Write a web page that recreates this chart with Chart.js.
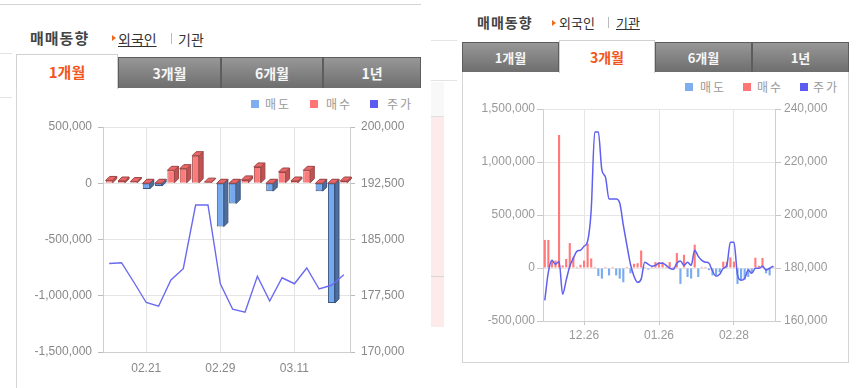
<!DOCTYPE html>
<html>
<head>
<meta charset="utf-8">
<script src="https://cdn.jsdelivr.net/npm/chart.js@4"></script>
<style>
  body { margin: 0; background: #fff; width: 861px; height: 388px; overflow: hidden; position: relative; font-family: 'Noto Sans CJK KR', sans-serif; }
  .abs { position: absolute; }
  .hd { position: absolute; font-weight: bold; color: #444; white-space: nowrap; }
  .lnk { position: absolute; color: #333; white-space: nowrap; }
  .tri { position: absolute; width: 0; height: 0; border-top: 3px solid transparent; border-bottom: 3px solid transparent; border-left: 4px solid #f06a1e; }
  .tab { position: absolute; box-sizing: border-box; text-align: center; font-weight: bold; color: #f6f6f6;
         background: linear-gradient(#979797, #6e6e6e); border: 1px solid #5d5d5d; border-bottom: none; }
  .tab.on { background: #fff; color: #f2561d; border: 1px solid #d0d0d0; border-bottom: none; }
  .lg { position: absolute; color: #999; letter-spacing: 2px; white-space: nowrap; }
  .sq { position: absolute; width: 8px; height: 8px; }
</style>
</head>
<body>
<!-- left widget -->
<div class="abs" style="left:0;top:4px;width:421px;height:1px;background:#d4d4d4"></div>
<div class="abs" style="left:0;top:53px;width:12px;height:1px;background:#e2e2e2"></div>
<div class="abs" style="left:0;top:97px;width:12px;height:1px;background:#e2e2e2"></div>
<div class="hd" style="left:30px;top:27px;font-size:15px;letter-spacing:1px">매매동향</div>
<div class="tri" style="left:112px;top:35px"></div>
<div class="lnk" style="left:118px;top:29px;font-size:14px;text-decoration:underline">외국인</div>
<div class="abs" style="left:171px;top:33px;width:1px;height:11px;background:#bbb"></div>
<div class="lnk" style="left:178px;top:29px;font-size:14px">기관</div>

<div class="tab on" style="left:16px;top:54px;width:102px;height:35px;font-size:15px;line-height:34px">1개월</div>
<div class="tab" style="left:118px;top:57px;width:103px;height:31px;font-size:14px;line-height:30px">3개월</div>
<div class="tab" style="left:221px;top:57px;width:102px;height:31px;font-size:14px;line-height:30px">6개월</div>
<div class="tab" style="left:323px;top:57px;width:98px;height:31px;font-size:14px;line-height:30px">1년</div>
<div class="abs" style="left:16px;top:88px;width:1px;height:300px;background:#d4d4d4"></div>

<div class="sq" style="left:251px;top:100px;background:#7eaef0"></div>
<div class="lg" style="left:265px;top:95px;font-size:12px">매도</div>
<div class="sq" style="left:310px;top:100px;background:#ff7676"></div>
<div class="lg" style="left:326px;top:95px;font-size:12px">매수</div>
<div class="sq" style="left:370px;top:100px;background:#5b5bf2"></div>
<div class="lg" style="left:387px;top:95px;font-size:12px">주가</div>

<canvas id="c1" width="420" height="288" style="position:absolute;left:0;top:100px"></canvas>

<!-- middle strip -->
<div class="abs" style="left:431px;top:40px;width:26px;height:1px;background:#e4e4e4"></div>
<div class="abs" style="left:431px;top:80px;width:26px;height:1px;background:#e4e4e4"></div>
<div class="abs" style="left:431px;top:82px;width:13px;height:34px;background:#f8f8f8"></div>
<div class="abs" style="left:431px;top:116px;width:13px;height:1px;background:#e0e0e0"></div>
<div class="abs" style="left:431px;top:117px;width:13px;height:210px;background:#fdeaea"></div>
<div class="abs" style="left:431px;top:276px;width:13px;height:1px;background:#d6d6d6"></div>

<!-- right widget -->
<div class="hd" style="left:477px;top:12px;font-size:14px;letter-spacing:1px">매매동향</div>
<div class="tri" style="left:552px;top:20px"></div>
<div class="lnk" style="left:559px;top:13px;font-size:13px">외국인</div>
<div class="abs" style="left:608px;top:17px;width:1px;height:11px;background:#bbb"></div>
<div class="lnk" style="left:616px;top:13px;font-size:13px;text-decoration:underline">기관</div>

<div class="tab" style="left:462px;top:42px;width:97px;height:30px;font-size:13px;line-height:30px">1개월</div>
<div class="tab on" style="left:559px;top:40px;width:96px;height:33px;font-size:14px;line-height:32px">3개월</div>
<div class="tab" style="left:655px;top:42px;width:97px;height:30px;font-size:13px;line-height:30px">6개월</div>
<div class="tab" style="left:752px;top:42px;width:97px;height:30px;font-size:13px;line-height:30px">1년</div>
<div class="abs" style="left:462px;top:72px;width:385px;height:290px;border:1px solid #d4d4d4;border-top:none"></div>

<div class="sq" style="left:685px;top:83px;background:#7eaef0"></div>
<div class="lg" style="left:700px;top:78px;font-size:12px">매도</div>
<div class="sq" style="left:743px;top:83px;background:#ff7676"></div>
<div class="lg" style="left:757px;top:78px;font-size:12px">매수</div>
<div class="sq" style="left:800px;top:83px;background:#5b5bf2"></div>
<div class="lg" style="left:813px;top:78px;font-size:12px">주가</div>

<canvas id="c2" width="386" height="262" style="position:absolute;left:462px;top:95px"></canvas>

<script>
// 1개월 (외국인)
const dates1 = ['02.16','02.19','02.20','02.21','02.22','02.23','02.26','02.27','02.28','02.29',
                '03.04','03.05','03.06','03.07','03.08','03.11','03.12','03.13','03.14','03.15'];
const shown1 = ['02.21','02.29','03.11'];
const sell1 = [null,null,null,-50000,-25000,null,null,null,null,-385000,
               -180000,null,null,-70000,null,null,null,-70000,-1065000,null];
const buy1 = [25000,20000,15000,0,0,115000,130000,245000,10000,0,
              0,30000,145000,0,100000,20000,115000,0,0,20000];
const price1 = [181800,181900,179300,176600,176100,179600,181100,189600,189600,179100,
                175700,175300,180100,176800,179900,179100,181200,178400,178900,180300];

// 3개월 (기관)
const dates2 = ['12.08','12.11','12.12','12.13','12.14','12.15','12.18','12.19','12.20','12.21',
                '12.22','12.26','12.27','12.28','01.02','01.03','01.04','01.05','01.08','01.09',
                '01.10','01.11','01.12','01.15','01.16','01.17','01.18','01.19','01.22','01.23',
                '01.24','01.25','01.26','01.29','01.30','01.31','02.01','02.02','02.05','02.06',
                '02.07','02.08','02.13','02.14','02.15','02.16','02.19','02.20','02.21','02.22',
                '02.23','02.26','02.27','02.28','02.29','03.04','03.05','03.06','03.07','03.08',
                '03.11','03.12','03.13','03.14','03.15'];
const shown2 = ['12.26','01.26','02.28'];
const buy2 = [265000,265000,72000,70000,1255000,25000,85000,235000,100000,10000,
              30000,70000,230000,90000,10000,null,null,10000,null,10000,
              null,null,null,10000,null,40000,45000,165000,10000,null,
              10000,56000,56000,56000,10000,56000,10000,141000,null,125000,
              null,null,220000,null,10000,10000,null,null,null,null,
              60000,60000,100000,60000,null,null,null,null,null,97000,
              20000,95000,null,null,15000];
const sell2 = [null,null,null,null,null,null,null,null,null,null,
               null,null,null,null,null,-75000,-100000,null,-70000,null,
               -70000,-100000,-135000,null,-50000,null,null,null,null,-15000,
               null,null,null,null,null,null,null,null,-150000,null,
               -85000,-100000,null,-85000,null,null,-20000,-70000,-70000,-40000,
               null,null,null,null,-150000,-115000,-110000,-85000,-45000,null,
               null,null,-50000,-70000,null];
const price2 = [167800,178400,182900,181400,182500,170100,175400,180700,183700,186300,
                186700,188200,190100,201800,231300,231300,216900,214300,206000,206000,
                206000,204500,196200,188600,181400,176900,174600,175800,182200,181400,
                180700,181000,181800,181800,181000,179900,179500,181800,182600,181000,
                182200,181000,186700,184400,182900,182200,181800,178800,176900,177600,
                179900,181000,189700,189700,177300,175400,176100,179200,178000,179900,
                179900,180700,179200,179900,180700];

const fmt = v => Number(v).toLocaleString('en-US');
const tickFont = { family: "'Liberation Sans', Arial, sans-serif", size: 12 };

// 3D 막대 옆면/윗면
const bar3d = {
  id: 'bar3d',
  afterDatasetDraw(chart, args) {
    const ds = chart.data.datasets[args.index];
    if (!ds.sideColor) return;
    const ctx = chart.ctx, d = 4;
    ctx.save();
    ctx.lineWidth = 1;
    ctx.strokeStyle = ds.borderColor;
    args.meta.data.forEach((el, i) => {
      if (ds.data[i] === null) return;
      const p = el.getProps(['x', 'y', 'base', 'width'], true);
      if (isNaN(p.y)) return;
      const l = p.x - p.width / 2, r = p.x + p.width / 2;
      const t = Math.min(p.y, p.base), b = Math.max(p.y, p.base);
      ctx.fillStyle = ds.sideColor;
      ctx.beginPath();
      ctx.moveTo(r, t); ctx.lineTo(r + d, t - d); ctx.lineTo(r + d, b - d); ctx.lineTo(r, b);
      ctx.closePath(); ctx.fill(); ctx.stroke();
      ctx.fillStyle = ds.topColor;
      ctx.beginPath();
      ctx.moveTo(l, t); ctx.lineTo(l + d, t - d); ctx.lineTo(r + d, t - d); ctx.lineTo(r, t);
      ctx.closePath(); ctx.fill(); ctx.stroke();
    });
    ctx.restore();
  }
};

new Chart(document.getElementById('c1'), {
  type: 'bar',
  plugins: [bar3d],
  data: {
    labels: dates1,
    datasets: [
      { label: '매도', data: sell1, order: 2, backgroundColor: '#74a9ef', borderColor: '#3b5680', borderWidth: 1,
        sideColor: '#4e6f9e', topColor: '#6392d8', barPercentage: 0.57, categoryPercentage: 1, yAxisID: 'y' },
      { label: '매수', data: buy1, order: 1, backgroundColor: '#ff7a7a', borderColor: '#9c4646', borderWidth: 1,
        sideColor: '#c05252', topColor: '#e96767', barPercentage: 0.57, categoryPercentage: 1, yAxisID: 'y' },
      { type: 'line', label: '주가', data: price1, order: 0, borderColor: '#6a6af0', borderWidth: 1.4,
        pointRadius: 0, tension: 0, yAxisID: 'y1' }
    ]
  },
  options: {
    responsive: false, devicePixelRatio: 1, animation: false,
    layout: { padding: { top: 27, left: 0, right: 0, bottom: 14 } },
    plugins: { legend: { display: false }, tooltip: { enabled: false } },
    scales: {
      x: {
        stacked: true,
        afterFit: s => { s.height = 22; },
        grid: { offset: false, drawTicks: false, color: c => shown1.includes(dates1[c.index]) ? '#e4e4e4' : 'rgba(0,0,0,0)' },
        border: { display: true, color: '#cfcfcf' },
        ticks: { autoSkip: false, maxRotation: 0, padding: 9, color: '#888', font: tickFont,
                 callback: (v, i) => shown1.includes(dates1[i]) ? dates1[i] : '' }
      },
      y: {
        position: 'left', min: -1500000, max: 500000,
        afterFit: s => { s.width = 103; },
        grid: { color: '#e4e4e4', tickLength: 5, tickColor: '#bbb' },
        border: { display: true, color: '#cfcfcf' },
        ticks: { stepSize: 500000, padding: 6, color: '#888', font: tickFont, callback: fmt }
      },
      y1: {
        position: 'right', min: 170000, max: 200000,
        afterFit: s => { s.width = 70; },
        grid: { drawOnChartArea: false, tickLength: 5, tickColor: '#bbb' },
        border: { display: true, color: '#cfcfcf' },
        ticks: { stepSize: 7500, padding: 6, color: '#888', font: tickFont, callback: fmt }
      }
    }
  }
});

new Chart(document.getElementById('c2'), {
  type: 'bar',
  data: {
    labels: dates2,
    datasets: [
      { label: '매도', data: sell2, order: 2, backgroundColor: '#7aabf0', barPercentage: 0.6, categoryPercentage: 1, yAxisID: 'y' },
      { label: '매수', data: buy2, order: 1, backgroundColor: '#ff7b7b', barPercentage: 0.6, categoryPercentage: 1, yAxisID: 'y' },
      { type: 'line', label: '주가', data: price2, order: 0, borderColor: '#5f5ff0', borderWidth: 1.5,
        pointRadius: 0, cubicInterpolationMode: 'monotone', yAxisID: 'y1' }
    ]
  },
  options: {
    responsive: false, devicePixelRatio: 1, animation: false,
    layout: { padding: { top: 14, left: 0, right: 0, bottom: 14 } },
    plugins: { legend: { display: false }, tooltip: { enabled: false } },
    scales: {
      x: {
        stacked: true,
        afterFit: s => { s.height = 22; },
        grid: { offset: false, tickLength: 4,
                color: c => shown2.includes(dates2[c.index]) ? '#e6e6e6' : 'rgba(0,0,0,0)',
                tickColor: c => shown2.includes(dates2[c.index]) ? '#c8c8c8' : 'rgba(0,0,0,0)' },
        border: { display: true, color: '#cfcfcf' },
        ticks: { autoSkip: false, maxRotation: 0, padding: 3, color: '#999', font: tickFont,
                 callback: (v, i) => shown2.includes(dates2[i]) ? dates2[i] : '' }
      },
      y: {
        position: 'left', min: -500000, max: 1500000,
        afterFit: s => { s.width = 81; },
        grid: { color: '#e6e6e6', tickLength: 6, tickColor: '#c8c8c8' },
        border: { display: true, color: '#cfcfcf' },
        ticks: { stepSize: 500000, padding: 2, color: '#999', font: tickFont, callback: fmt }
      },
      y1: {
        position: 'right', min: 160000, max: 240000,
        afterFit: s => { s.width = 73; },
        grid: { drawOnChartArea: false, tickLength: 6, tickColor: '#c8c8c8' },
        border: { display: true, color: '#cfcfcf' },
        ticks: { stepSize: 20000, padding: 3, color: '#999', font: tickFont, callback: fmt }
      }
    }
  }
});
</script>
</body>
</html>
